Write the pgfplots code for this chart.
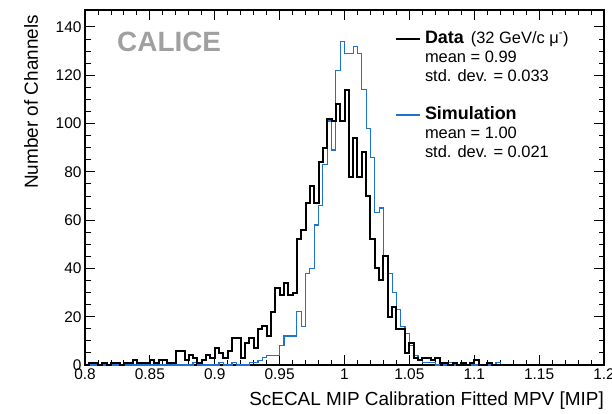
\documentclass[border=0pt]{standalone}
\usepackage{fontspec}
\setmainfont{Liberation Sans}
\usepackage{pgfplots}
\usepackage{pgfplotstable}
\pgfplotsset{compat=1.18}
\definecolor{simblue}{RGB}{30,115,210}
\definecolor{caligray}{RGB}{160,160,160}
\pgfplotstableread{
x data sim
0.8000 0 0
0.8033 1 0
0.8067 1 0
0.8100 0 0
0.8133 1 0
0.8167 0 0
0.8200 1 0
0.8233 1 0
0.8267 0 0
0.8300 1 0
0.8333 1 0
0.8367 2 0
0.8400 1 0
0.8433 1 0
0.8467 1 0
0.8500 2 0
0.8533 1 0
0.8567 2 0
0.8600 2 0
0.8633 1 0
0.8667 1 0
0.8700 6 0
0.8733 6 0
0.8767 2 0
0.8800 4 0
0.8833 3 1
0.8867 1 0
0.8900 2 0
0.8933 4 0
0.8967 3 0
0.9000 7 0
0.9033 5 1
0.9067 3 0
0.9100 6 0
0.9133 11 1
0.9167 11 0
0.9200 3 0
0.9233 9 0
0.9267 11 1
0.9300 7 1
0.9333 15 2
0.9367 16 3
0.9400 12 4
0.9433 22 4
0.9467 32 4
0.9500 29 8
0.9533 34 12
0.9567 29 12
0.9600 30 12
0.9633 52 22
0.9667 56 16
0.9700 67 38
0.9733 74 40
0.9767 67 58
0.9800 84 66
0.9833 90 83
0.9867 102 101
0.9900 101 89
0.9933 108 122
0.9967 101 134
1.0000 114 129
1.0033 78 129
1.0067 94 132
1.0100 78 129
1.0133 88 114
1.0167 70 98
1.0200 52 86
1.0233 40 63
1.0267 35 65
1.0300 45 45
1.0333 20 38
1.0367 24 30
1.0400 15 23
1.0433 15 16
1.0467 5 13
1.0500 9 8
1.0533 3 4
1.0567 2 2
1.0600 3 1
1.0633 3 1
1.0667 2 1
1.0700 3 0
1.0733 1 1
1.0767 1 0
1.0800 0 1
1.0833 1 0
1.0867 0 0
1.0900 1 1
1.0933 0 0
1.0967 1 0
1.1000 2 0
1.1033 0 0
1.1067 0 0
1.1100 1 0
1.1133 0 0
1.1167 0 1
1.1200 0 0
1.1233 0 0
1.1267 0 0
1.1300 0 0
1.1333 0 0
1.1367 0 0
1.1400 0 0
1.1433 0 0
1.1467 0 0
1.1500 0 0
1.1533 0 0
1.1567 0 0
1.1600 0 0
1.1633 0 0
1.1667 0 0
1.1700 0 0
1.1733 0 0
1.1767 0 0
1.1800 0 0
1.1833 0 0
1.1867 0 0
1.1900 0 0
1.1933 0 0
1.1967 0 0
1.2000 0 0
}\hist
\begin{document}
\begin{tikzpicture}
\useasboundingbox (-85bp,-49bp) rectangle (527bp,365bp);
\begin{axis}[
  at={(0,0)}, anchor=south west,
  scale only axis, width=519bp, height=355bp,
  xmin=0.8, xmax=1.2, ymin=0, ymax=147,
  xtick={0.8,0.85,0.9,0.95,1,1.05,1.1,1.15,1.2},
  minor x tick num=4,
  ytick={0,20,40,60,80,100,120,140},
  minor y tick num=3,
  tick align=inside,
  tick pos=both,
  major tick length=10bp,
  minor tick length=5.5bp,
  axis line style={line width=1.1bp},
  every tick/.style={black, line width=0.9bp},
  /pgf/number format/assume math mode=true,
  tick label style={font=\fontsize{15.5}{18}\selectfont},
  xlabel={ScECAL MIP Calibration Fitted MPV [MIP]},
  ylabel={Number of Channels},
  label style={font=\fontsize{19}{22}\selectfont},
  xlabel style={at={(axis description cs:1,-0.1127)}, anchor=base east, inner sep=0pt},
  ylabel style={at={(axis description cs:-0.0906,0.986)}, anchor=base east, inner sep=0pt},
  legend style={at={(0.5973,0.945)}, anchor=north west, draw=none, fill=none,
    inner sep=0pt, outer sep=0pt, row sep=0pt, column sep=4bp,
    nodes={inner sep=0pt, text height=13.5bp, text depth=5.5bp, anchor=base west},
    font=\fontsize{16.5}{19}\selectfont},
  legend image code/.code={\draw[#1] (0bp,4bp) -- (24bp,4bp);},
]
\addplot[forget plot, const plot mark left, simblue, line width=1.2bp] table[x=x, y=sim] {\hist};
\addplot[forget plot, const plot mark left, black, line width=2bp] table[x=x, y=data] {\hist};

\addlegendimage{black, line width=2bp}
\addlegendentry{{\fontsize{18}{19}\selectfont\bfseries Data}\hspace{7bp}(32 GeV/c μ\textsuperscript{-})}
\addlegendimage{empty legend}
\addlegendentry{mean = 0.99}
\addlegendimage{empty legend}
\addlegendentry{std. dev. = 0.033}
\addlegendimage{empty legend}
\addlegendentry{\mbox{}}
\addlegendimage{simblue, line width=1.2bp}
\addlegendentry{{\fontsize{18}{19}\selectfont\bfseries Simulation}}
\addlegendimage{empty legend}
\addlegendentry{mean = 1.00}
\addlegendimage{empty legend}
\addlegendentry{std. dev. = 0.021}

\node[anchor=base west, inner sep=0pt, font=\fontsize{28}{30}\selectfont\bfseries, text=caligray] at (axis description cs:0.0617,0.8817) {CALICE};
\end{axis}
\end{tikzpicture}
\end{document}
